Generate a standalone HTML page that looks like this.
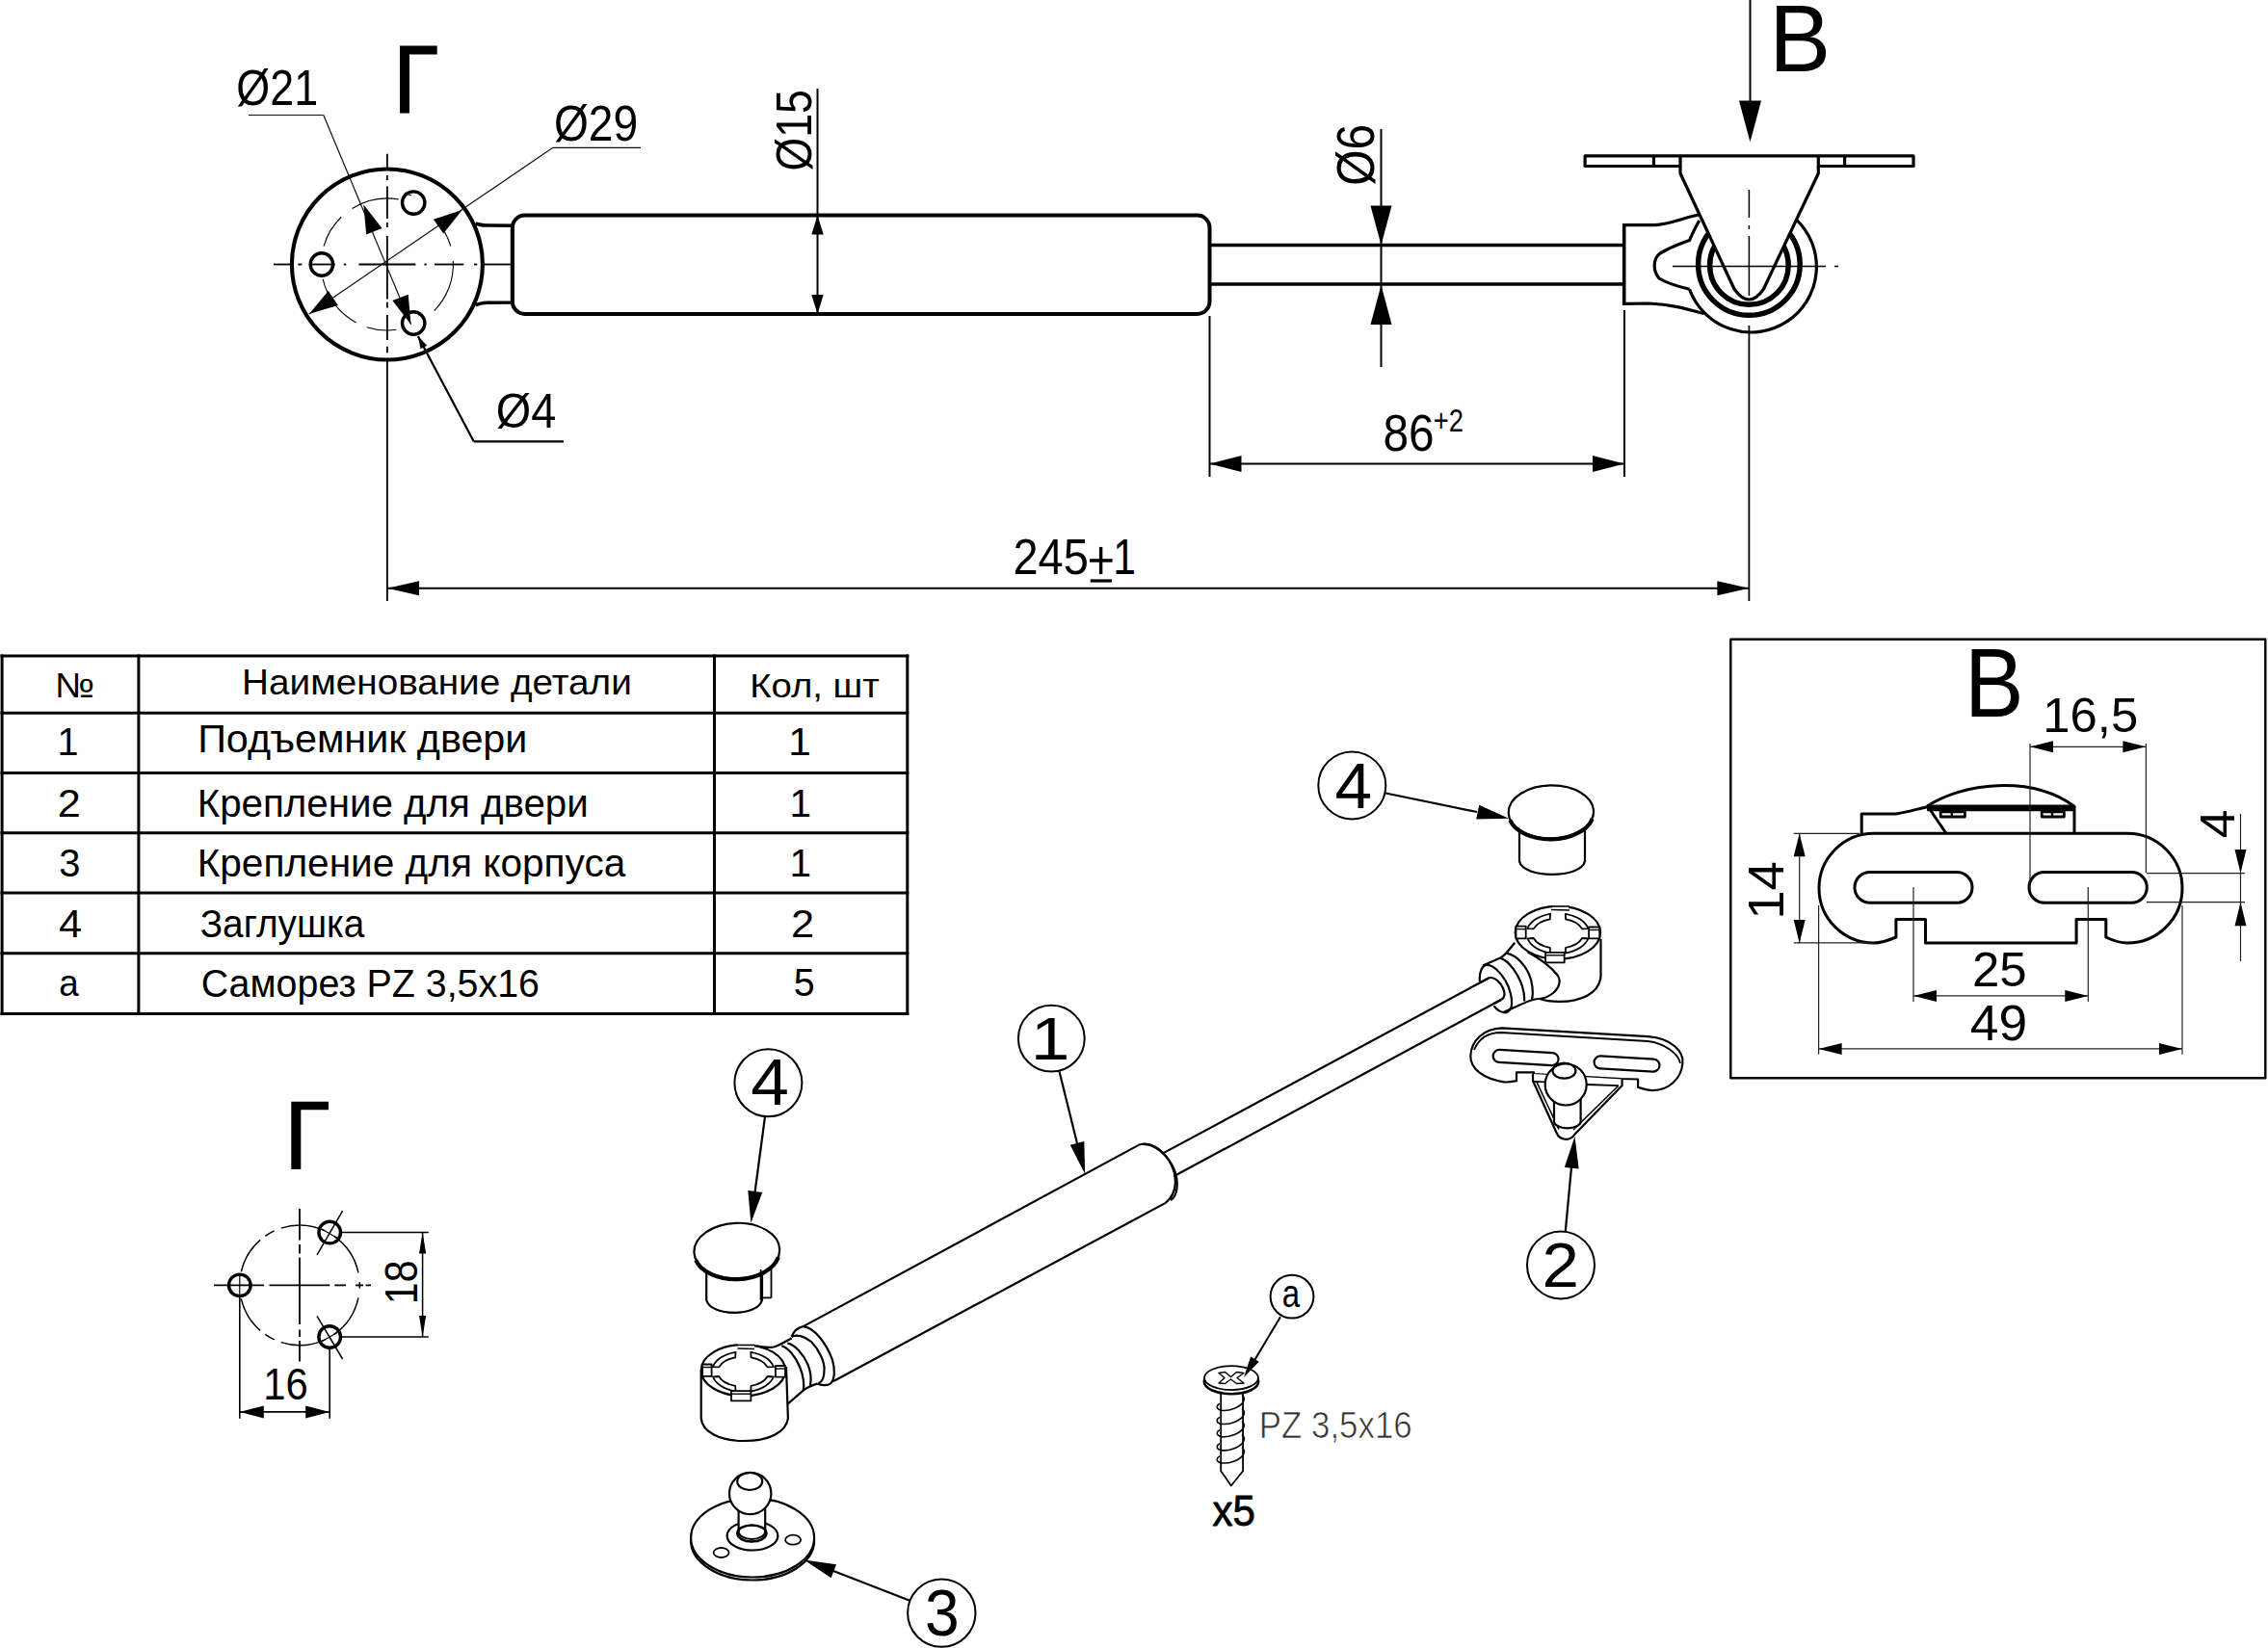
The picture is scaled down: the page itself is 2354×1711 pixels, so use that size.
<!DOCTYPE html>
<html><head><meta charset="utf-8"><style>
html,body{margin:0;padding:0;background:#fff;}
svg{display:block;}
text{font-family:"Liberation Sans",sans-serif;}
</style></head><body>
<svg width="2354" height="1711" viewBox="0 0 2354 1711" stroke="#000" stroke-linecap="butt" stroke-linejoin="round">
<rect x="0" y="0" width="2354" height="1711" fill="#fff" stroke="none"/>
<line x1="401.9" y1="159.8" x2="401.9" y2="176.0" stroke-width="1.8" />
<line x1="401.9" y1="182.0" x2="401.9" y2="187.0" stroke-width="1.8" />
<line x1="401.9" y1="193.4" x2="401.9" y2="227.0" stroke-width="1.8" />
<line x1="401.9" y1="231.0" x2="401.9" y2="236.0" stroke-width="1.8" />
<line x1="401.9" y1="245.0" x2="401.9" y2="310.5" stroke-width="1.8" />
<line x1="401.9" y1="313.8" x2="401.9" y2="319.6" stroke-width="1.8" />
<line x1="401.9" y1="327.0" x2="401.9" y2="353.0" stroke-width="1.8" />
<line x1="401.9" y1="359.7" x2="401.9" y2="366.3" stroke-width="1.8" />
<line x1="401.9" y1="374.4" x2="401.9" y2="624.0" stroke-width="1.8" />
<line x1="283.9" y1="274.5" x2="304.0" y2="274.5" stroke-width="1.8" />
<line x1="309.3" y1="274.5" x2="313.4" y2="274.5" stroke-width="1.8" />
<line x1="320.8" y1="274.5" x2="347.8" y2="274.5" stroke-width="1.8" />
<line x1="356.8" y1="274.5" x2="359.3" y2="274.5" stroke-width="1.8" />
<line x1="372.4" y1="274.5" x2="431.4" y2="274.5" stroke-width="1.8" />
<line x1="440.4" y1="274.5" x2="442.8" y2="274.5" stroke-width="1.8" />
<line x1="451.0" y1="274.5" x2="481.3" y2="274.5" stroke-width="1.8" />
<line x1="492.0" y1="274.5" x2="495.3" y2="274.5" stroke-width="1.8" />
<line x1="502.6" y1="274.5" x2="530.5" y2="274.5" stroke-width="1.8" />
<circle cx="401.9" cy="274.5" r="99.0" stroke-width="4.1" fill="none" />
<path d="M365.60,216.41 A68.5,68.5 0 0 1 413.79,207.04" stroke-width="1.1" fill="none"/>
<path d="M461.22,240.25 A68.5,68.5 0 0 1 467.75,255.62" stroke-width="1.1" fill="none"/>
<path d="M470.31,270.91 A68.5,68.5 0 0 1 450.76,322.51" stroke-width="1.1" fill="none"/>
<path d="M411.43,342.33 A68.5,68.5 0 0 1 380.73,339.65" stroke-width="1.1" fill="none"/>
<path d="M369.74,334.98 A68.5,68.5 0 0 1 335.16,289.91" stroke-width="1.1" fill="none"/>
<path d="M336.05,255.62 A68.5,68.5 0 0 1 354.32,225.23" stroke-width="1.1" fill="none"/>
<circle cx="333.9" cy="274.5" r="11.7" stroke-width="3.4" fill="none" />
<circle cx="429.2" cy="210.6" r="11.7" stroke-width="3.4" fill="none" />
<circle cx="429.2" cy="335.5" r="11.7" stroke-width="3.4" fill="none" />
<line x1="420.0" y1="200.0" x2="427.0" y2="203.0" stroke-width="1.1" />
<path d="M493.6,232 Q498,233.8 506,234 L531.8,234.2 L531.8,314 L506,314.2 Q498,314.5 493.6,317" stroke-width="3.6" fill="none" />
<rect x="531.8" y="223.5" width="723.7" height="102.5" rx="13" ry="13" stroke-width="4" fill="none"/>
<line x1="1255.5" y1="254.5" x2="1686.0" y2="254.5" stroke-width="3.6" />
<line x1="1255.5" y1="295.0" x2="1686.0" y2="295.0" stroke-width="3.6" />
<g stroke="#111">
<line x1="258.0" y1="119.5" x2="335.8" y2="119.5" stroke-width="1.2" />
<line x1="335.8" y1="119.4" x2="426.5" y2="336.8" stroke-width="1.2" />
</g>
<path d="M377.3,212.3 L396.5,237.0 L380.2,243.4 Z" fill="#000" stroke="none"/>
<path d="M426.5,336.8 L407.3,312.1 L423.7,305.7 Z" fill="#000" stroke="none"/>
<g stroke="#111">
<line x1="573.5" y1="153.4" x2="665.0" y2="153.4" stroke-width="1.2" />
<line x1="573.5" y1="153.4" x2="320.8" y2="326.1" stroke-width="1.2" />
</g>
<path d="M479.7,218.0 L460.2,242.5 L449.9,227.7 Z" fill="#000" stroke="none"/>
<path d="M320.8,326.1 L340.8,302.0 L350.8,316.9 Z" fill="#000" stroke="none"/>
<line x1="433.8" y1="349.0" x2="491.7" y2="458.3" stroke-width="2.2" />
<line x1="491.7" y1="458.3" x2="585.0" y2="458.3" stroke-width="2.2" />
<path d="M433.8,349.0 L443.2,358.7 L436.5,362.3 Z" fill="#000" stroke="none"/>
<line x1="848.5" y1="92.0" x2="848.5" y2="326.0" stroke-width="2" />
<path d="M848.5,223.5 L854.7,243.5 L842.3,243.5 Z" fill="#000" stroke="none"/>
<path d="M848.5,326.0 L842.3,306.0 L854.7,306.0 Z" fill="#000" stroke="none"/>
<line x1="1433.5" y1="134.0" x2="1433.5" y2="381.0" stroke-width="2" />
<path d="M1433.5,254.5 L1422.5,213.5 L1444.5,213.5 Z" fill="#000" stroke="none"/>
<path d="M1433.5,296.0 L1444.5,337.0 L1422.5,337.0 Z" fill="#000" stroke="none"/>
<line x1="1255.5" y1="328.0" x2="1255.5" y2="495.0" stroke-width="2" />
<line x1="1686.0" y1="322.0" x2="1686.0" y2="495.0" stroke-width="2" />
<line x1="1255.5" y1="481.5" x2="1686.0" y2="481.5" stroke-width="2" />
<path d="M1255.5,481.5 L1288.5,473.0 L1288.5,490.0 Z" fill="#000" stroke="none"/>
<path d="M1686.0,481.5 L1653.0,490.0 L1653.0,473.0 Z" fill="#000" stroke="none"/>
<line x1="402.0" y1="610.8" x2="1815.4" y2="610.8" stroke-width="2" />
<path d="M402.0,610.8 L435.0,603.3 L435.0,618.3 Z" fill="#000" stroke="none"/>
<path d="M1815.4,610.8 L1782.4,618.3 L1782.4,603.3 Z" fill="#000" stroke="none"/>
<line x1="1815.4" y1="338.0" x2="1815.4" y2="624.0" stroke-width="1.8" />
<line x1="1816.5" y1="0.0" x2="1816.5" y2="106.0" stroke-width="2" />
<path d="M1816.5,147.5 L1805.0,104.5 L1828.0,104.5 Z" fill="#000" stroke="none"/>
<path d="M1685.7,233.6 L1717.8,233.6 C1732,233 1748,226 1763,223" stroke-width="3.2" fill="none" />
<path d="M1685.7,315.4 L1711.4,315 C1736,316 1752,321 1768.6,325.7" stroke-width="3.2" fill="none" />
<line x1="1685.7" y1="232.0" x2="1685.7" y2="317.0" stroke-width="3.6" />
<path d="M1863.8,227.3 A68,68 0 1 1 1753.5,300.3" stroke-width="3.2" fill="none" />
<path d="M1763.8,229 C1759,237 1756,244 1753.5,249.5 L1748,251.5 C1738,255 1730,259 1723,263 C1716,268 1715,281 1722,289 C1730,294 1744,298 1753.5,300.3" stroke-width="3.2" fill="none" />
<circle cx="1815.4" cy="274.5" r="52.8" stroke-width="5.5" fill="none" />
<circle cx="1815.4" cy="275.5" r="40.8" stroke-width="5.5" fill="none" />
<path d="M1744,172.5 L1744,180 L1800,300 Q1815.4,322 1830.5,300 L1887.3,180 L1887.3,172.5" stroke-width="3.2" fill="#fff" />
<path d="M1744,172.5 L1645.1,172.5 L1645.1,161.9 L1986,161.9 L1986,172.5 L1887.3,172.5" stroke-width="3.2" fill="#fff" />
<line x1="1716.5" y1="161.0" x2="1716.5" y2="174.0" stroke-width="3.2" />
<line x1="1744.0" y1="161.0" x2="1744.0" y2="174.0" stroke-width="3.2" />
<line x1="1887.3" y1="161.0" x2="1887.3" y2="174.0" stroke-width="3.2" />
<line x1="1914.6" y1="161.0" x2="1914.6" y2="174.0" stroke-width="3.2" />
<line x1="1736.0" y1="276.5" x2="1895.0" y2="276.5" stroke-width="1.5" />
<line x1="1904.0" y1="276.5" x2="1908.0" y2="276.5" stroke-width="1.5" />
<line x1="1815.4" y1="197.0" x2="1815.4" y2="226.0" stroke-width="1.5" />
<line x1="1815.4" y1="234.0" x2="1815.4" y2="238.0" stroke-width="1.5" />
<line x1="1815.4" y1="245.0" x2="1815.4" y2="307.0" stroke-width="1.5" />
<text x="245.35" y="108.70" font-size="51.89" textLength="84.74" lengthAdjust="spacingAndGlyphs" fill="#000" stroke="none">Ø21</text>
<path d="M415,47.5 L453.7,47.5 L453.7,56.5 L425,56.5 L425,117.5 L415,117.5 Z" fill="#000" stroke="none"/>
<text x="574.90" y="145.70" font-size="51.16" textLength="87.29" lengthAdjust="spacingAndGlyphs" fill="#000" stroke="none">Ø29</text>
<text x="842.00" y="177.55" font-size="52.33" textLength="84.42" lengthAdjust="spacingAndGlyphs" transform="rotate(-90 842.00 177.55)" fill="#000" stroke="none">Ø15</text>
<text x="514.78" y="444.40" font-size="49.27" textLength="62.50" lengthAdjust="spacingAndGlyphs" fill="#000" stroke="none">Ø4</text>
<text x="1426.00" y="192.66" font-size="55.23" textLength="63.76" lengthAdjust="spacingAndGlyphs" transform="rotate(-90 1426.00 192.66)" fill="#000" stroke="none">Ø6</text>
<text x="1435.42" y="467.50" font-size="53.05" textLength="53.18" lengthAdjust="spacingAndGlyphs" fill="#000" stroke="none">86</text>
<text x="1487.66" y="447.50" font-size="32.70" textLength="31.21" lengthAdjust="spacingAndGlyphs" fill="#000" stroke="none">+2</text>
<text x="1051.44" y="596.10" font-size="51.75" textLength="78.33" lengthAdjust="spacingAndGlyphs" fill="#000" stroke="none">245</text>
<rect x="1140.9" y="567.9" width="3.4" height="28.2" fill="#000" stroke="none"/><rect x="1131" y="580.2" width="23.6" height="3.5" fill="#000" stroke="none"/>
<rect x="1131.7" y="601.4" width="22.2" height="3.2" fill="#000" stroke="none"/>
<text x="1155.25" y="596.10" font-size="51.75" textLength="23.73" lengthAdjust="spacingAndGlyphs" fill="#000" stroke="none">1</text>
<text x="1836.14" y="74.00" font-size="98.84" textLength="63.91" lengthAdjust="spacingAndGlyphs" fill="#000" stroke="none">B</text>
<line x1="0.5" y1="681.0" x2="943.3" y2="681.0" stroke-width="3" />
<line x1="0.5" y1="740.3" x2="943.3" y2="740.3" stroke-width="3" />
<line x1="0.5" y1="802.5" x2="943.3" y2="802.5" stroke-width="3" />
<line x1="0.5" y1="864.7" x2="943.3" y2="864.7" stroke-width="3" />
<line x1="0.5" y1="926.9" x2="943.3" y2="926.9" stroke-width="3" />
<line x1="0.5" y1="989.7" x2="943.3" y2="989.7" stroke-width="3" />
<line x1="0.5" y1="1052.5" x2="943.3" y2="1052.5" stroke-width="3" />
<line x1="2.1" y1="679.5" x2="2.1" y2="1054.0" stroke-width="3" />
<line x1="143.9" y1="679.5" x2="143.9" y2="1054.0" stroke-width="3" />
<line x1="741.5" y1="679.5" x2="741.5" y2="1054.0" stroke-width="3" />
<line x1="941.8" y1="679.5" x2="941.8" y2="1054.0" stroke-width="3" />
<text x="57.08" y="723.90" font-size="36.34" textLength="41.15" lengthAdjust="spacingAndGlyphs" fill="#000" stroke="none">№</text>
<text x="251.14" y="720.70" font-size="37.50" textLength="404.62" lengthAdjust="spacingAndGlyphs" fill="#000" stroke="none">Наименование детали</text>
<text x="778.18" y="723.50" font-size="35.76" textLength="134.67" lengthAdjust="spacingAndGlyphs" fill="#000" stroke="none">Кол, шт</text>
<text x="59.58" y="783.60" font-size="41.43" textLength="22.06" lengthAdjust="spacingAndGlyphs" fill="#000" stroke="none">1</text>
<text x="205.17" y="780.80" font-size="39.97" textLength="342.27" lengthAdjust="spacingAndGlyphs" fill="#000" stroke="none">Подъемник двери</text>
<text x="818.27" y="783.60" font-size="41.43" textLength="23.61" lengthAdjust="spacingAndGlyphs" fill="#000" stroke="none">1</text>
<text x="59.83" y="847.80" font-size="41.43" textLength="24.05" lengthAdjust="spacingAndGlyphs" fill="#000" stroke="none">2</text>
<text x="204.70" y="848.00" font-size="40.70" textLength="406.09" lengthAdjust="spacingAndGlyphs" fill="#000" stroke="none">Крепление для двери</text>
<text x="819.41" y="847.80" font-size="41.43" textLength="22.57" lengthAdjust="spacingAndGlyphs" fill="#000" stroke="none">1</text>
<text x="61.28" y="910.20" font-size="41.43" textLength="22.17" lengthAdjust="spacingAndGlyphs" fill="#000" stroke="none">3</text>
<text x="204.67" y="909.80" font-size="40.70" textLength="444.63" lengthAdjust="spacingAndGlyphs" fill="#000" stroke="none">Крепление для корпуса</text>
<text x="819.41" y="910.20" font-size="41.43" textLength="22.57" lengthAdjust="spacingAndGlyphs" fill="#000" stroke="none">1</text>
<text x="61.01" y="972.60" font-size="41.43" textLength="24.06" lengthAdjust="spacingAndGlyphs" fill="#000" stroke="none">4</text>
<text x="207.73" y="973.20" font-size="40.70" textLength="170.67" lengthAdjust="spacingAndGlyphs" fill="#000" stroke="none">Заглушка</text>
<text x="821.01" y="972.60" font-size="41.43" textLength="24.17" lengthAdjust="spacingAndGlyphs" fill="#000" stroke="none">2</text>
<text x="61.24" y="1034.00" font-size="38.66" textLength="20.46" lengthAdjust="spacingAndGlyphs" fill="#000" stroke="none">a</text>
<text x="208.70" y="1035.20" font-size="40.70" textLength="351.33" lengthAdjust="spacingAndGlyphs" fill="#000" stroke="none">Саморез PZ 3,5x16</text>
<text x="823.72" y="1034.00" font-size="41.43" textLength="21.94" lengthAdjust="spacingAndGlyphs" fill="#000" stroke="none">5</text>
<rect x="1796.3" y="663.8" width="555" height="455.4" stroke-width="2.4" fill="none"/>
<text x="2039.03" y="744.00" font-size="101.46" textLength="61.53" lengthAdjust="spacingAndGlyphs" fill="#000" stroke="none">B</text>
<text x="2120.33" y="760.40" font-size="49.71" textLength="98.80" lengthAdjust="spacingAndGlyphs" fill="#000" stroke="none">16,5</text>
<path d="M1945,865.3 L2208,865.3 A57,56.8 0 0 1 2208,979 C2200,979 2192,976 2185.8,973 L2185.8,954.5 L2155.1,954.5 L2155.1,979 L1998.5,979 L1998.5,954.5 L1967.9,954.5 L1967.9,973 C1961,976 1953,979 1945,979 A57,56.8 0 0 1 1945,865.3 Z" stroke-width="3" fill="none" />
<rect x="1925" y="905.5" width="122" height="31.8" rx="15.9" stroke-width="3" fill="none"/>
<rect x="2106" y="905.5" width="122.3" height="31.8" rx="15.9" stroke-width="3" fill="none"/>
<path d="M1932.2,865.3 L1932.2,845.1 L1968,845.1 C1980,843 1990,840 2000,837.7" stroke-width="3" fill="none" />
<path d="M2000,837.2 C2036,813 2108,804 2153,837.2 L2153,865.3" stroke-width="3" fill="none" />
<line x1="2000.0" y1="838.8" x2="2153.0" y2="838.8" stroke-width="6.8" />
<path d="M2003.5,841 L2019.8,865" stroke-width="3" fill="none" />
<rect x="2014.2" y="842.8" width="25.2" height="5.2" stroke-width="2.8" fill="none"/>
<line x1="2025.8" y1="842.0" x2="2025.8" y2="848.0" stroke-width="2.4" />
<rect x="2119.2" y="842.8" width="23.2" height="5.2" stroke-width="2.8" fill="none"/>
<line x1="2130.0" y1="842.0" x2="2130.0" y2="848.0" stroke-width="2.4" />
<g stroke="#222">
<line x1="2107.0" y1="775.3" x2="2227.4" y2="775.3" stroke-width="1.2" />
<line x1="2107.0" y1="772.0" x2="2107.0" y2="924.0" stroke-width="1.2" />
<line x1="2227.4" y1="772.0" x2="2227.4" y2="906.0" stroke-width="1.2" />
<path d="M2107.0,775.3 L2131.0,769.3 L2131.0,781.3 Z" fill="#000" stroke="none"/>
<path d="M2227.4,775.3 L2203.4,781.3 L2203.4,769.3 Z" fill="#000" stroke="none"/>
<line x1="2325.5" y1="845.0" x2="2325.5" y2="998.0" stroke-width="1.2" />
<line x1="2228.0" y1="906.6" x2="2330.0" y2="906.6" stroke-width="1.2" />
<line x1="2228.0" y1="936.7" x2="2330.0" y2="936.7" stroke-width="1.2" />
<path d="M2325.5,906.6 L2319.5,882.1 L2331.5,882.1 Z" fill="#000" stroke="none"/>
<path d="M2325.5,936.7 L2331.5,961.2 L2319.5,961.2 Z" fill="#000" stroke="none"/>
<line x1="1867.7" y1="865.3" x2="1867.7" y2="978.9" stroke-width="1.2" />
<line x1="1861.7" y1="865.3" x2="1930.0" y2="865.3" stroke-width="1.2" />
<line x1="1861.7" y1="978.9" x2="1945.0" y2="978.9" stroke-width="1.2" />
<path d="M1867.7,865.3 L1873.7,889.3 L1861.7,889.3 Z" fill="#000" stroke="none"/>
<path d="M1867.7,978.9 L1861.7,954.9 L1873.7,954.9 Z" fill="#000" stroke="none"/>
<line x1="1986.0" y1="1033.9" x2="2167.3" y2="1033.9" stroke-width="1.2" />
<line x1="1986.0" y1="921.0" x2="1986.0" y2="1040.0" stroke-width="1.2" />
<line x1="2167.3" y1="921.0" x2="2167.3" y2="1040.0" stroke-width="1.2" />
<path d="M1986.0,1033.9 L2010.0,1027.9 L2010.0,1039.9 Z" fill="#000" stroke="none"/>
<path d="M2167.3,1033.9 L2143.3,1039.9 L2143.3,1027.9 Z" fill="#000" stroke="none"/>
<line x1="1887.6" y1="1088.9" x2="2265.0" y2="1088.9" stroke-width="1.2" />
<line x1="1887.6" y1="940.0" x2="1887.6" y2="1094.8" stroke-width="1.2" />
<line x1="2265.0" y1="940.0" x2="2265.0" y2="1094.8" stroke-width="1.2" />
<path d="M1887.6,1088.9 L1911.6,1082.9 L1911.6,1094.9 Z" fill="#000" stroke="none"/>
<path d="M2265.0,1088.9 L2241.0,1094.9 L2241.0,1082.9 Z" fill="#000" stroke="none"/>
</g>
<text x="2319.50" y="870.23" font-size="49.56" textLength="29.80" lengthAdjust="spacingAndGlyphs" transform="rotate(-90 2319.50 870.23)" fill="#000" stroke="none">4</text>
<text x="1850.70" y="954.76" font-size="51.89" textLength="60.76" lengthAdjust="spacingAndGlyphs" transform="rotate(-90 1850.70 954.76)" fill="#000" stroke="none">14</text>
<text x="2047.04" y="1023.50" font-size="49.71" textLength="56.70" lengthAdjust="spacingAndGlyphs" fill="#000" stroke="none">25</text>
<text x="2044.78" y="1080.00" font-size="51.89" textLength="59.35" lengthAdjust="spacingAndGlyphs" fill="#000" stroke="none">49</text>
<path d="M302.3,1143.7 L341,1143.7 L341,1152.2 L312.3,1152.2 L312.3,1214 L302.3,1214 Z" fill="#000" stroke="none"/>
<path d="M250.30,1320.39 A62.3,62.3 0 0 1 270.13,1287.38" stroke-width="1.5" fill="none"/>
<path d="M275.27,1283.37 A62.3,62.3 0 0 1 284.67,1277.94" stroke-width="1.5" fill="none"/>
<path d="M291.75,1275.15 A62.3,62.3 0 0 1 337.33,1277.94" stroke-width="1.5" fill="none"/>
<path d="M346.73,1283.37 A62.3,62.3 0 0 1 371.94,1321.45" stroke-width="1.5" fill="none"/>
<path d="M373.21,1331.14 A62.3,62.3 0 0 1 373.21,1337.66" stroke-width="1.5" fill="none"/>
<path d="M371.94,1347.35 A62.3,62.3 0 0 1 346.73,1385.43" stroke-width="1.5" fill="none"/>
<path d="M337.33,1390.86 A62.3,62.3 0 0 1 291.75,1393.65" stroke-width="1.5" fill="none"/>
<path d="M284.67,1390.86 A62.3,62.3 0 0 1 275.27,1385.43" stroke-width="1.5" fill="none"/>
<path d="M270.13,1381.42 A62.3,62.3 0 0 1 250.30,1348.41" stroke-width="1.5" fill="none"/>
<line x1="311.0" y1="1255.0" x2="311.0" y2="1287.5" stroke-width="1.8" />
<line x1="311.0" y1="1292.0" x2="311.0" y2="1301.5" stroke-width="1.8" />
<line x1="311.0" y1="1305.5" x2="311.0" y2="1375.0" stroke-width="1.8" />
<line x1="311.0" y1="1380.5" x2="311.0" y2="1388.0" stroke-width="1.8" />
<line x1="311.0" y1="1392.0" x2="311.0" y2="1413.5" stroke-width="1.8" />
<line x1="222.0" y1="1334.4" x2="274.0" y2="1334.4" stroke-width="1.8" />
<line x1="279.5" y1="1334.4" x2="342.2" y2="1334.4" stroke-width="1.8" />
<line x1="347.3" y1="1334.4" x2="359.0" y2="1334.4" stroke-width="1.8" />
<line x1="369.0" y1="1334.4" x2="377.0" y2="1334.4" stroke-width="1.8" />
<line x1="379.6" y1="1334.4" x2="385.0" y2="1334.4" stroke-width="1.8" />
<line x1="248.8" y1="1323.0" x2="248.8" y2="1346.0" stroke-width="1.2" />
<line x1="334.2" y1="1276.0" x2="350.2" y2="1285.4" stroke-width="1.2" />
<line x1="334.2" y1="1392.5" x2="350.2" y2="1383.5" stroke-width="1.2" />
<circle cx="248.8" cy="1334.4" r="11.3" stroke-width="3.4" fill="none" />
<circle cx="342.2" cy="1279.6" r="11.3" stroke-width="3.4" fill="none" />
<circle cx="342.2" cy="1388.0" r="11.3" stroke-width="3.4" fill="none" />
<line x1="355.6" y1="1257.2" x2="329.0" y2="1302.8" stroke-width="1.5" />
<line x1="329.0" y1="1366.3" x2="355.6" y2="1411.0" stroke-width="1.5" />
<line x1="438.6" y1="1279.6" x2="438.6" y2="1388.0" stroke-width="1.5" />
<line x1="354.0" y1="1279.6" x2="444.8" y2="1279.6" stroke-width="1.5" />
<line x1="354.0" y1="1388.0" x2="444.8" y2="1388.0" stroke-width="1.5" />
<path d="M438.6,1279.6 L442.2,1301.6 L435.0,1301.6 Z" fill="#000" stroke="none"/>
<path d="M438.6,1388.0 L435.0,1366.0 L442.2,1366.0 Z" fill="#000" stroke="none"/>
<text x="433.30" y="1354.13" font-size="47.97" textLength="45.72" lengthAdjust="spacingAndGlyphs" transform="rotate(-90 433.30 1354.13)" fill="#000" stroke="none">18</text>
<line x1="248.8" y1="1346.0" x2="248.8" y2="1472.8" stroke-width="1.6" />
<line x1="342.2" y1="1400.0" x2="342.2" y2="1472.8" stroke-width="1.6" />
<line x1="248.8" y1="1465.9" x2="342.2" y2="1465.9" stroke-width="1.6" />
<path d="M248.8,1465.9 L273.8,1459.4 L273.8,1472.4 Z" fill="#000" stroke="none"/>
<path d="M342.2,1465.9 L317.2,1472.4 L317.2,1459.4 Z" fill="#000" stroke="none"/>
<text x="273.31" y="1453.20" font-size="45.93" textLength="46.52" lengthAdjust="spacingAndGlyphs" fill="#000" stroke="none">16</text>
<circle cx="1403.3" cy="815.4" r="35.0" stroke-width="2" fill="#fff" />
<text x="1385.41" y="838.80" font-size="66.57" textLength="38.52" lengthAdjust="spacingAndGlyphs" fill="#000" stroke="none">4</text>
<line x1="1438.3" y1="823.5" x2="1533.0" y2="843.0" stroke-width="2.2" />
<path d="M1566.0,849.7 L1532.2,850.4 L1535.2,835.7 Z" fill="#000" stroke="none"/>
<circle cx="1091.3" cy="1078.2" r="34.4" stroke-width="2" fill="#fff" />
<text x="1069.73" y="1100.00" font-size="63.37" textLength="40.63" lengthAdjust="spacingAndGlyphs" fill="#000" stroke="none">1</text>
<line x1="1099.5" y1="1112.6" x2="1118.0" y2="1187.0" stroke-width="2.2" />
<path d="M1126.2,1218.9 L1110.8,1188.8 L1125.3,1185.1 Z" fill="#000" stroke="none"/>
<circle cx="797.4" cy="1124.3" r="35.0" stroke-width="2" fill="#fff" />
<text x="779.27" y="1147.00" font-size="68.32" textLength="39.62" lengthAdjust="spacingAndGlyphs" fill="#000" stroke="none">4</text>
<line x1="794.0" y1="1159.3" x2="783.5" y2="1238.0" stroke-width="2.2" />
<path d="M779.4,1269.8 L776.3,1236.1 L791.2,1238.1 Z" fill="#000" stroke="none"/>
<circle cx="1620.0" cy="1313.4" r="35.0" stroke-width="2" fill="#fff" />
<text x="1600.52" y="1336.20" font-size="64.83" textLength="38.45" lengthAdjust="spacingAndGlyphs" fill="#000" stroke="none">2</text>
<line x1="1624.8" y1="1278.4" x2="1631.0" y2="1212.0" stroke-width="2.2" />
<path d="M1634.5,1180.0 L1638.7,1213.6 L1623.8,1212.1 Z" fill="#000" stroke="none"/>
<circle cx="977.3" cy="1674.6" r="35.2" stroke-width="2" fill="#fff" />
<text x="959.96" y="1698.00" font-size="67.73" textLength="35.66" lengthAdjust="spacingAndGlyphs" fill="#000" stroke="none">3</text>
<line x1="944.2" y1="1661.8" x2="865.0" y2="1631.0" stroke-width="2.2" />
<path d="M834.5,1619.4 L868.0,1624.3 L862.6,1638.3 Z" fill="#000" stroke="none"/>
<circle cx="1341.0" cy="1346.1" r="22.4" stroke-width="2" fill="#fff" />
<text x="1330.79" y="1356.60" font-size="40.89" textLength="18.41" lengthAdjust="spacingAndGlyphs" fill="#000" stroke="none">a</text>
<line x1="833.7" y1="1377.1" x2="1181.3" y2="1189.1" stroke-width="2.2" />
<line x1="864.6" y1="1434.2" x2="1209.8" y2="1248.9" stroke-width="2.2" />
<path d="M1181.3,1189.1 C1192,1184 1206,1192 1214,1206 C1222,1220 1223,1238 1209.8,1248.9" stroke-width="2.2" fill="none" />
<path d="M1184,1188 C1198,1186 1213,1200 1219,1215 C1224,1228 1222,1242 1215,1246" stroke-width="2.2" fill="none" />
<line x1="1206.1" y1="1197.9" x2="1545.6" y2="1015.2" stroke-width="2.2" />
<line x1="1218.3" y1="1221.3" x2="1558.4" y2="1037.7" stroke-width="2.2" />
<path d="M833.7,1377.1 C829,1378 824,1381.5 821.6,1388" stroke-width="2.2" fill="none" />
<path d="M833.7,1377.1 C845,1378 858,1395 864,1412 C867,1422 866.5,1432 862,1436.5 C859,1439 852,1438.5 848.3,1436.6" stroke-width="2.2" fill="none" />
<path d="M821.6,1388 C826,1385 835,1387 842,1393 C850,1401 856,1414 855.5,1422 C855.5,1430 853,1435 849.5,1436" stroke-width="2.2" fill="none" />
<path d="M811.2,1397.2 C818,1399 826,1409 830,1419 C834,1428 835,1438 833.7,1443.3" stroke-width="2.2" fill="none" />
<path d="M817.3,1394.7 C825,1396 834,1406 838.5,1416.6 C841.5,1424 842,1433 841,1438.4" stroke-width="2.2" fill="none" />
<path d="M816.7,1458.4 L834.9,1442.7 C838,1440.5 842,1438.5 848.3,1436.6" stroke-width="2.2" fill="none" />
<path d="M786,1397.6 C792,1398.5 799,1399.2 803,1398.5 C808,1397.5 815,1393 821.6,1389.3" stroke-width="2.2" fill="none" />
<path d="M727.7,1423 L727.7,1472.6 C729,1487 748,1496 772,1496 C798,1496 816,1487 817.9,1472.6 L816,1419" stroke-width="2.2" fill="#fff" />
<ellipse cx="771.4" cy="1422.7" rx="43.7" ry="26.6" stroke-width="2.2" fill="#fff" />
<path d="M802.93,1429.28 A32.5,21 0 0 1 779.26,1444.58 L779.59,1438.94 A26.5,15.5 0 0 0 796.60,1428.99 Z" stroke-width="1.8" fill="none"/>
<path d="M763.54,1444.58 A32.5,21 0 0 1 739.87,1429.28 L746.20,1428.99 A26.5,15.5 0 0 0 763.21,1438.94 Z" stroke-width="1.8" fill="none"/>
<path d="M739.87,1419.12 A32.5,21 0 0 1 763.54,1403.82 L763.21,1409.46 A26.5,15.5 0 0 0 746.20,1419.41 Z" stroke-width="1.8" fill="none"/>
<path d="M779.26,1403.82 A32.5,21 0 0 1 802.93,1419.12 L796.60,1419.41 A26.5,15.5 0 0 0 779.59,1409.46 Z" stroke-width="1.8" fill="none"/>
<rect x="766" y="1394" width="17" height="6" fill="#fff" stroke="none"/>
<line x1="765.5" y1="1396.5" x2="783.0" y2="1396.5" stroke-width="1.6" />
<line x1="765.5" y1="1400.0" x2="783.0" y2="1400.5" stroke-width="1.6" />
<rect x="729.1" y="1416.5" width="9.5" height="12.4" stroke-width="1.8" fill="#fff"/>
<line x1="729.1" y1="1419.5" x2="738.6" y2="1419.5" stroke-width="1.4" />
<rect x="804.9" y="1418" width="10.1" height="11.6" stroke-width="1.8" fill="#fff"/>
<line x1="804.9" y1="1421.0" x2="815.0" y2="1421.0" stroke-width="1.4" />
<rect x="759" y="1444.2" width="20.4" height="10.2" stroke-width="1.8" fill="#fff"/>
<line x1="759.0" y1="1447.2" x2="779.4" y2="1447.2" stroke-width="1.4" />
<path d="M1597.8,1037 C1604,1039 1611,1039.8 1617.7,1039.8 C1640,1040 1660,1032 1661.5,1013.5 L1661.5,975" stroke-width="2.2" fill="none" />
<path d="M1585.7,988.5 C1598,995 1610,1004 1617,1013 C1620,1018 1619,1025 1612,1031 C1607,1035 1602,1036.5 1597.8,1037" stroke-width="2.2" fill="none" />
<path d="M1560.2,1051 C1570,1047 1582,1041 1590,1038.3 C1593,1037.5 1596,1037 1597.8,1037" stroke-width="2.2" fill="none" />
<path d="M1563.8,989.7 C1575,992 1585,1004 1589,1017 C1591,1025 1591.5,1032 1589.9,1038.3" stroke-width="2.2" fill="none" />
<path d="M1557.2,994.6 C1567,998 1576,1012 1580,1024 C1582,1031 1582.5,1036 1582,1039.5" stroke-width="2.2" fill="none" />
<path d="M1539,1002.5 L1557.2,994.6 C1560,993 1562,991 1563.8,989 L1572.3,978.8" stroke-width="2.2" fill="none" />
<path d="M1535.9,1018.9 C1535,1010 1538,1003 1542.6,1001.9 C1549,1001 1557,1009 1562.6,1018.3 C1567.5,1026 1570,1038 1568.7,1045 C1567.5,1050 1563,1052 1560.2,1051 C1556,1050 1552.5,1047 1550.5,1044.3" stroke-width="2.2" fill="none" />
<path d="M1545.6,1015.2 C1551,1014 1557,1019 1560,1026 C1562.5,1032 1561.5,1036 1558.4,1037.7" stroke-width="2.2" fill="none" />
<line x1="1535.9" y1="1020.4" x2="1545.6" y2="1015.2" stroke-width="2.2" />
<line x1="1550.5" y1="1042.0" x2="1558.4" y2="1037.7" stroke-width="2.2" />
<ellipse cx="1616.9" cy="968.2" rx="44.2" ry="27.4" stroke-width="2.2" fill="#fff" />
<path d="M1648.43,974.28 A32.5,21 0 0 1 1624.76,989.58 L1625.09,983.94 A26.5,15.5 0 0 0 1642.10,973.99 Z" stroke-width="1.8" fill="none"/>
<path d="M1609.04,989.58 A32.5,21 0 0 1 1585.37,974.28 L1591.70,973.99 A26.5,15.5 0 0 0 1608.71,983.94 Z" stroke-width="1.8" fill="none"/>
<path d="M1585.37,964.12 A32.5,21 0 0 1 1609.04,948.82 L1608.71,954.46 A26.5,15.5 0 0 0 1591.70,964.41 Z" stroke-width="1.8" fill="none"/>
<path d="M1624.76,948.82 A32.5,21 0 0 1 1648.43,964.12 L1642.10,964.41 A26.5,15.5 0 0 0 1625.09,954.46 Z" stroke-width="1.8" fill="none"/>
<rect x="1611" y="938" width="17" height="6" fill="#fff" stroke="none"/>
<line x1="1610.0" y1="941.0" x2="1629.0" y2="941.0" stroke-width="1.6" />
<line x1="1610.0" y1="944.5" x2="1629.0" y2="945.0" stroke-width="1.6" />
<rect x="1573.5" y="961.6" width="10.2" height="12.8" stroke-width="1.8" fill="#fff"/>
<line x1="1573.5" y1="964.6" x2="1583.7" y2="964.6" stroke-width="1.4" />
<rect x="1649.1" y="962.5" width="11.1" height="11.9" stroke-width="1.8" fill="#fff"/>
<line x1="1649.1" y1="965.5" x2="1660.2" y2="965.5" stroke-width="1.4" />
<rect x="1604.1" y="988.8" width="19.6" height="10.6" stroke-width="1.8" fill="#fff"/>
<line x1="1604.1" y1="991.8" x2="1623.7" y2="991.8" stroke-width="1.4" />
<path d="M1577,858 L1577,894.3 C1581,912.3 1641,912.3 1645,894.3 L1645,858" stroke-width="2.2" fill="none" />
<ellipse cx="1609.9" cy="843.0" rx="44.2" ry="27.6" stroke-width="2.2" fill="#fff" transform="rotate(-1 1609.9 843)" />
<path d="M1567.21,850.14 A44.2,27.6 0 0 0 1652.59,850.14" stroke-width="4.2" fill="none" transform="translate(0 0.8) rotate(-1 1609.9 843)"/>
<path d="M733.2,1316 L733.2,1349.4 C737.2,1367.4 787,1367.4 791,1349.4 L791,1316" stroke-width="2.2" fill="none" />
<ellipse cx="764.8" cy="1298.6" rx="44.4" ry="28.8" stroke-width="2.2" fill="#fff" transform="rotate(-2 764.8 1298.6)" />
<path d="M721.91,1306.05 A44.4,28.8 0 0 0 807.69,1306.05" stroke-width="4.2" fill="none" transform="translate(0 0.8) rotate(-2 764.8 1298.6)"/>
<line x1="789.6" y1="1318.0" x2="789.6" y2="1350.0" stroke-width="1.8" />
<line x1="800.5" y1="1316.0" x2="800.5" y2="1347.4" stroke-width="1.8" />
<line x1="789.6" y1="1347.4" x2="800.5" y2="1347.4" stroke-width="1.8" />
<ellipse cx="781.1" cy="1599.6" rx="64.0" ry="40.9" stroke-width="2.2" fill="#fff" />
<ellipse cx="781.1" cy="1596.6" rx="64.0" ry="40.9" stroke-width="2.2" fill="#fff" />
<ellipse cx="781.0" cy="1594.5" rx="26.4" ry="15.0" stroke-width="2.2" fill="none" />
<ellipse cx="748.6" cy="1612.0" rx="8.0" ry="5.0" stroke-width="1.8" fill="none" />
<ellipse cx="823.1" cy="1598.7" rx="8.0" ry="5.0" stroke-width="1.8" fill="none" />
<path d="M766.6,1565 L766.6,1590 A13.8,8 0 0 0 794.2,1590 L794.2,1565" stroke-width="2.2" fill="#fff"/>
<ellipse cx="780.4" cy="1592.0" rx="15.0" ry="8.5" stroke-width="2.6" fill="none" />
<circle cx="778.7" cy="1550.5" r="21.7" stroke-width="2.2" fill="#fff" />
<ellipse cx="778.2" cy="1538.0" rx="13.0" ry="9.0" stroke-width="2.2" fill="none" />
<path d="M1559,1067.4 L1710.6,1076.2 C1735,1078 1748,1092 1746.4,1104 C1745,1120 1732,1132 1715.6,1132.1 C1710,1132 1704,1130 1700.1,1128.8 L1700.1,1120.5 L1682.5,1120 L1592.1,1115 L1592,1113.4 L1574,1113.4 L1574,1122.2 C1570,1123 1565,1124 1560.7,1123.3 C1540,1120 1526,1110 1526.3,1096.3 C1527,1080 1540,1068 1559,1067.4 Z" stroke-width="2.2" fill="#fff" />
<path d="M1530,1090 C1535,1078 1545,1072 1558,1072 L1710,1081 C1728,1083 1742,1094 1744,1104" stroke-width="1.8" fill="none" />
<rect x="1549.6" y="1091.5" width="68" height="13" rx="6.5" stroke-width="2.2" fill="none" transform="rotate(3.3 1583.6 1098)"/>
<rect x="1654.5" y="1098" width="68" height="13" rx="6.5" stroke-width="2.2" fill="none" transform="rotate(3.3 1688.5 1104.5)"/>
<path d="M1591,1115 L1591,1122 L1615.5,1176 C1619,1184.5 1630,1185 1634.6,1177.5 L1683.6,1127 L1683.6,1120.5" stroke-width="2.2" fill="#fff" />
<path d="M1595,1123.5 L1618,1172.5" stroke-width="1.6" fill="none" />
<path d="M1679.5,1127.5 L1633,1173" stroke-width="1.6" fill="none" />
<line x1="1592.0" y1="1122.8" x2="1604.0" y2="1123.3" stroke-width="1.8" />
<line x1="1646.7" y1="1126.0" x2="1680.0" y2="1127.2" stroke-width="1.8" />
<path d="M1613,1140 L1613,1164.6 A13.8,6.7 0 0 0 1640.6,1164.6 L1640.6,1140" stroke-width="2.2" fill="#fff"/>
<circle cx="1625.2" cy="1126.0" r="21.5" stroke-width="2.2" fill="#fff" />
<ellipse cx="1623.5" cy="1111.7" rx="12.0" ry="8.0" stroke-width="2.2" fill="none" />
<path d="M1267.2,1445 L1267.2,1527.2 L1277.8,1542.5 L1290.1,1527.2 L1290.1,1445" stroke-width="1.8" fill="#fff"/>
<path d="M1266,1457.3 C1262,1459.3 1262,1463.3 1268,1464.3 C1276,1465.3 1286,1461.3 1290,1456.3 C1292,1453.3 1292,1450.3 1289,1448.3" stroke-width="1.6" fill="none" />
<path d="M1266,1471.4 C1262,1473.4 1262,1477.4 1268,1478.4 C1276,1479.4 1286,1475.4 1290,1470.4 C1292,1467.4 1292,1464.4 1289,1462.4" stroke-width="1.6" fill="none" />
<path d="M1266,1484.6 C1262,1486.6 1262,1490.6 1268,1491.6 C1276,1492.6 1286,1488.6 1290,1483.6 C1292,1480.6 1292,1477.6 1289,1475.6" stroke-width="1.6" fill="none" />
<path d="M1266,1498.7 C1262,1500.7 1262,1504.7 1268,1505.7 C1276,1506.7 1286,1502.7 1290,1497.7 C1292,1494.7 1292,1491.7 1289,1489.7" stroke-width="1.6" fill="none" />
<path d="M1266,1511.9 C1262,1513.9 1262,1517.9 1268,1518.9 C1276,1519.9 1286,1515.9 1290,1510.9 C1292,1507.9 1292,1504.9 1289,1502.9" stroke-width="1.6" fill="none" />
<ellipse cx="1278.0" cy="1434.6" rx="28.2" ry="12.6" stroke-width="2.6" fill="#fff" />
<ellipse cx="1278.0" cy="1430.6" rx="28.0" ry="12.5" stroke-width="1.8" fill="#fff" />
<path d="M1265,1425.5 L1271.5,1424.5 L1277.5,1429.5 L1283.5,1424.5 L1291,1425.5 L1284,1430.5 L1291,1436 L1283.5,1436.5 L1277.5,1432 L1271.5,1436.5 L1265,1436 L1271,1430.5 Z" stroke-width="1.4" fill="none" />
<line x1="1329.0" y1="1367.2" x2="1298.0" y2="1419.0" stroke-width="2" />
<path d="M1291.0,1430.0 L1298.1,1408.6 L1306.7,1413.8 Z" fill="#000" stroke="none"/>
<text x="1306.84" y="1493.00" font-size="38.37" textLength="158.89" lengthAdjust="spacingAndGlyphs" fill="#333" stroke="#fff" stroke-width="0.7">PZ 3,5x16</text>
<text x="1258.53" y="1583.60" font-size="43.46" textLength="44.44" lengthAdjust="spacingAndGlyphs" fill="#000" stroke="#000" stroke-width="0.8">x5</text>
</svg></body></html>
